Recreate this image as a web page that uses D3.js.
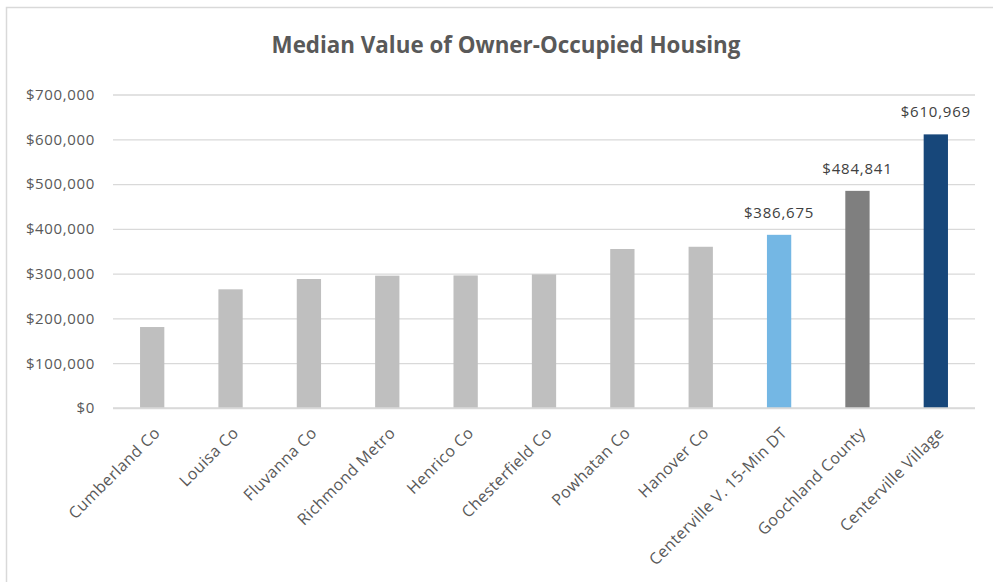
<!DOCTYPE html>
<html>
<head>
<meta charset="utf-8">
<script src="https://cdn.jsdelivr.net/npm/d3@7"></script>
<style>
  html, body { margin: 0; padding: 0; background: #fff; }
  svg { display: block; }
</style>
</head>
<body>
<svg id="chart" width="993" height="582"></svg>
<script>
const categories = ["Cumberland Co", "Louisa Co", "Fluvanna Co", "Richmond Metro", "Henrico Co",
  "Chesterfield Co", "Powhatan Co", "Hanover Co", "Centerville V. 15-Min DT", "Goochland County", "Centerville Village"];
const values = [180800, 265000, 288000, 295500, 296000, 298400, 355000, 360000, 386675, 484841, 610969];
const labelled = [false, false, false, false, false, false, false, false, true, true, true];
const barColors = ["#BFBFBF", "#BFBFBF", "#BFBFBF", "#BFBFBF", "#BFBFBF", "#BFBFBF", "#BFBFBF", "#BFBFBF",
  "#74B7E4", "#7F7F7F", "#17477A"];
const yTicks = [0, 100000, 200000, 300000, 400000, 500000, 600000, 700000];
const title = "Median Value of Owner-Occupied Housing";

const svg = d3.select("#chart");
const font = "'Open Sans', 'Noto Sans', sans-serif";

// chart border
svg.append("rect").attr("x", 6.5).attr("y", 7.5).attr("width", 1000).attr("height", 600)
  .attr("fill", "#fff").attr("stroke", "#D9D9D9").attr("stroke-width", 1.5);

const plot = { left: 113, right: 975, top: 94.5, bottom: 408 };

const x = d3.scaleBand().domain(categories).range([plot.left, plot.right]).paddingInner(0.69).paddingOuter(0.345);
const y = d3.scaleLinear().domain([0, 700000]).range([plot.bottom, plot.top]);

// title
const t = svg.append("text").attr("x", 506).attr("y", 53).attr("text-anchor", "middle")
  .attr("font-family", font).attr("font-weight", "bold").attr("font-size", 20)
  .attr("fill", "#595959").text(title);
const w = t.node().getComputedTextLength();
t.attr("font-size", 20 * 469 / w);

// gridlines + y labels
const yAxis = d3.axisLeft(y).tickValues(yTicks).tickSize(-(plot.right - plot.left))
  .tickPadding(18).tickFormat(d => "$" + d3.format(",")(d));
const gy = svg.append("g").attr("transform", `translate(${plot.left},0)`).call(yAxis);
gy.select(".domain").remove();
gy.selectAll(".tick line").attr("stroke", "#D9D9D9").attr("stroke-width", 1.3);
gy.selectAll(".tick text").attr("font-family", font).attr("font-size", 15).attr("fill", "#595959")
  .attr("letter-spacing", 0.65);

// bars
svg.append("g").selectAll("rect").data(categories).join("rect")
  .attr("x", d => x(d)).attr("width", x.bandwidth())
  .attr("y", (d, i) => y(values[i])).attr("height", (d, i) => y(0) - y(values[i]))
  .attr("fill", (d, i) => barColors[i]);

// axis baseline
svg.append("line").attr("x1", plot.left).attr("x2", plot.right).attr("y1", y(0)).attr("y2", y(0))
  .attr("stroke", "#D9D9D9").attr("stroke-width", 1.5);

// data labels
svg.append("g").selectAll("text").data(categories.filter((d, i) => labelled[i])).join("text")
  .attr("x", d => x(d) + x.bandwidth() / 2)
  .attr("y", d => y(values[categories.indexOf(d)]) - 17)
  .attr("text-anchor", "middle").attr("font-family", font).attr("font-size", 15).attr("fill", "#404040")
  .attr("letter-spacing", 0.8)
  .text(d => "$" + d3.format(",")(values[categories.indexOf(d)]));

// x labels
svg.append("g").selectAll("text").data(categories).join("text")
  .attr("transform", d => `translate(${x(d) + x.bandwidth() / 2 + 9},${plot.bottom + 26}) rotate(-45)`)
  .attr("text-anchor", "end").attr("font-family", font).attr("font-size", 16).attr("fill", "#595959")
  .attr("letter-spacing", 0.4)
  .text(d => d);
</script>
</body>
</html>
